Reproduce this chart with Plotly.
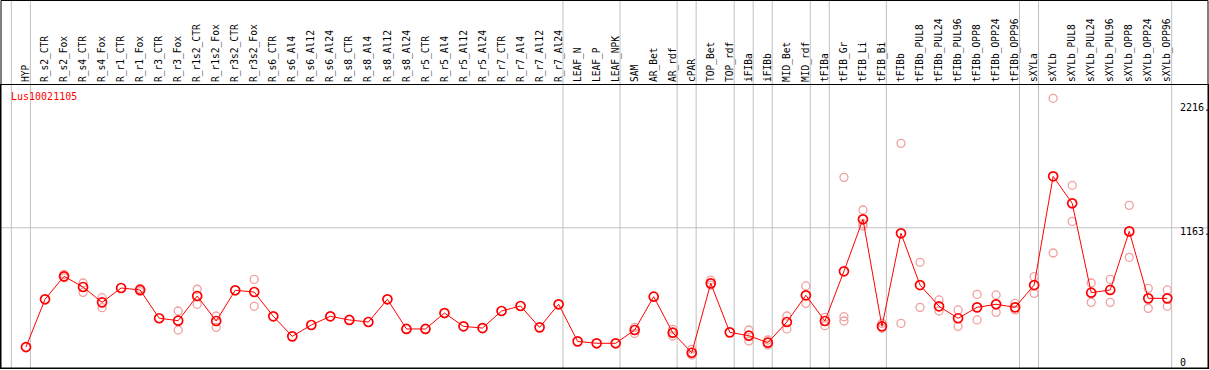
import plotly.graph_objects as go

categories = ["HYP", "R_s2_CTR", "R_s2_Fox", "R_s4_CTR", "R_s4_Fox", "R_r1_CTR", "R_r1_Fox",
              "R_r3_CTR", "R_r3_Fox", "R_r1s2_CTR", "R_r1s2_Fox", "R_r3s2_CTR", "R_r3s2_Fox",
              "R_s6_CTR", "R_s6_Al4", "R_s6_Al12", "R_s6_Al24", "R_s8_CTR", "R_s8_Al4",
              "R_s8_Al12", "R_s8_Al24", "R_r5_CTR", "R_r5_Al4", "R_r5_Al12", "R_r5_Al24",
              "R_r7_CTR", "R_r7_Al4", "R_r7_Al12", "R_r7_Al24", "LEAF_N", "LEAF_P", "LEAF_NPK",
              "SAM", "AR_Bet", "AR_rdf", "cPAR", "TOP_Bet", "TOP_rdf", "iFIBa", "iFIBb",
              "MID_Bet", "MID_rdf", "tFIBa", "tFIB_Gr", "tFIB_Li", "tFIB_Bi", "tFIBb",
              "tFIBb_PUL8", "tFIBb_PUL24", "tFIBb_PUL96", "tFIBb_OPP8", "tFIBb_OPP24",
              "tFIBb_OPP96", "sXYLa", "sXYLb", "sXYLb_PUL8", "sXYLb_PUL24", "sXYLb_PUL96",
              "sXYLb_OPP8", "sXYLb_OPP24", "sXYLb_OPP96"]

mean_values = [114, 534, 736, 642, 507, 633, 616, 367, 346, 563, 343, 613, 598, 384, 208,
               308, 384, 352, 334, 534, 273, 273, 413, 296, 281, 431, 475, 287, 490, 164, 147,
               147, 264, 557, 240, 64, 674, 243, 214, 152, 334, 569, 343, 780, 1237, 296, 1114,
               659, 472, 367, 463, 490, 463, 659, 1615, 1378, 592, 616, 1131, 542, 542]

rep_categories = ["R_s2_Fox", "R_s2_Fox", "R_s4_CTR", "R_s4_CTR", "R_s4_Fox", "R_s4_Fox",
                  "R_r1_Fox", "R_r1_Fox", "R_r3_Fox", "R_r3_Fox", "R_r1s2_CTR", "R_r1s2_CTR",
                  "R_r1s2_Fox", "R_r1s2_Fox", "R_r3s2_Fox", "R_r3s2_Fox",
                  "SAM", "SAM", "AR_rdf", "AR_rdf", "cPAR", "cPAR", "TOP_Bet", "TOP_Bet",
                  "iFIBa", "iFIBa", "iFIBb", "iFIBb", "MID_Bet", "MID_Bet", "MID_rdf", "MID_rdf",
                  "tFIBa", "tFIBa", "tFIB_Gr", "tFIB_Gr", "tFIB_Gr", "tFIB_Li", "tFIB_Li", "tFIB_Li",
                  "tFIB_Bi", "tFIB_Bi", "tFIBb", "tFIBb", "tFIBb_PUL8", "tFIBb_PUL8",
                  "tFIBb_PUL24", "tFIBb_PUL24", "tFIBb_PUL96", "tFIBb_PUL96",
                  "tFIBb_OPP8", "tFIBb_OPP8", "tFIBb_OPP24", "tFIBb_OPP24",
                  "tFIBb_OPP96", "tFIBb_OPP96", "sXYLa", "sXYLa", "sXYLb", "sXYLb",
                  "sXYLb_PUL8", "sXYLb_PUL8", "sXYLb_PUL24", "sXYLb_PUL24",
                  "sXYLb_PUL96", "sXYLb_PUL96", "sXYLb_OPP8", "sXYLb_OPP8",
                  "sXYLb_OPP24", "sXYLb_OPP24", "sXYLb_OPP96", "sXYLb_OPP96"]
rep_values = [752, 722, 677, 595, 548, 460,
              630, 602, 431, 264, 622, 490,
              387, 287, 709, 472,
              287, 234, 270, 211, 94, 44, 703, 659,
              264, 167, 176, 132, 387, 273, 651, 498,
              375, 302, 1606, 381, 343, 1319, 1196, 1178,
              322, 279, 1905, 322, 859, 463,
              528, 431, 440, 296,
              577, 352, 572, 419,
              498, 440, 733, 586, 2301, 941,
              1536, 1219, 677, 507,
              709, 507, 1360, 903,
              630, 454, 616, 472]

group_last = ["HYP", "R_r7_Al24", "LEAF_NPK", "AR_rdf", "cPAR", "TOP_rdf", "iFIBa", "iFIBb",
              "MID_rdf", "tFIBa", "tFIB_Bi", "tFIBb_OPP96", "sXYLa", "sXYLb_OPP96"]

y_labels = [2216, 1163, 0]
gene = "Lus10021105"

FONT = "DejaVu Sans Mono"
RED = "#ff0000"
REP = "#f0a0a0"
GRID = "#c0c0c0"

fig = go.Figure()
fig.add_trace(go.Scatter(x=rep_categories, y=rep_values, mode="markers",
                         marker=dict(symbol="circle-open", size=8, color=REP,
                                     line=dict(width=1.3, color=REP)),
                         showlegend=False, hoverinfo="skip"))
fig.add_trace(go.Scatter(x=categories, y=mean_values, mode="lines+markers",
                         line=dict(color=RED, width=1),
                         marker=dict(symbol="circle-open", size=9, color=RED,
                                     line=dict(width=1.7, color=RED)),
                         showlegend=False))

shapes = []
# vertical separators (through header too)
for idx in [-1] + [categories.index(g) for g in group_last]:
    shapes.append(dict(type="line", xref="x", yref="paper", x0=idx + 0.23, x1=idx + 0.23,
                       y0=0, y1=1.2986, line=dict(color=GRID, width=1), layer="below"))
# horizontal reference line
shapes.append(dict(type="line", xref="paper", yref="y", x0=0, x1=1, y0=y_labels[1], y1=y_labels[1],
                   line=dict(color=GRID, width=1), layer="below"))
# outer frame around header
shapes.append(dict(type="rect", xref="paper", yref="paper", x0=0, x1=1, y0=0, y1=1.2986,
                   line=dict(color="black", width=1)))

annotations = [dict(text=gene, xref="paper", yref="paper", x=0.0065, y=0.958,
                    xanchor="left", yanchor="middle", showarrow=False,
                    font=dict(family=FONT, size=10, color=RED))]
shifts = [0, -4, -2]
for v, s in zip(y_labels, shifts):
    annotations.append(dict(text=f"{v}." if v else "0", xref="paper", yref="y", x=0.9755, y=v,
                            xanchor="left", yanchor="middle", yshift=s, showarrow=False,
                            font=dict(family=FONT, size=10, color="black")))

fig.update_layout(
    width=1209, height=370,
    margin=dict(l=1, r=1, t=85, b=2),
    paper_bgcolor="white", plot_bgcolor="white",
    shapes=shapes, annotations=annotations,
    xaxis=dict(type="category", categoryorder="array", categoryarray=categories,
               side="top", range=[-1.314, 62.14], tickangle=-90,
               showgrid=False, zeroline=False, ticks="", showline=True, mirror=True,
               linecolor="black", linewidth=1,
               tickfont=dict(family=FONT, size=9.6, color="black")),
    yaxis=dict(range=[-70.3, 2418.2], showgrid=False, zeroline=False, showticklabels=False,
               ticks="", showline=True, mirror=True, linecolor="black", linewidth=1),
)

fig.write_html("out.html", config={"displayModeBar": False},
               post_script="document.body.style.margin='0';document.body.style.overflow='hidden';")
